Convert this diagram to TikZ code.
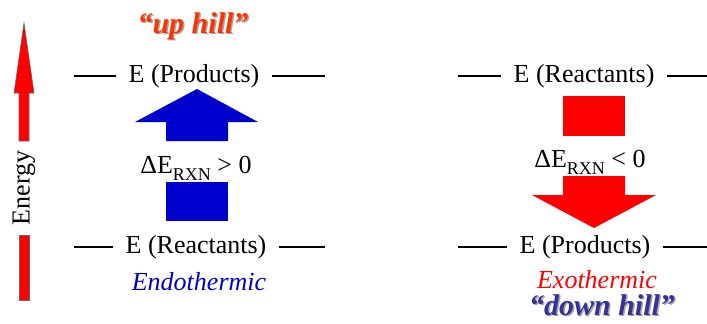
\documentclass[tikz,border=0pt]{standalone}
\usepackage{fontspec}
\setmainfont{Liberation Serif}
\definecolor{endoblue}{HTML}{0000CC}
\definecolor{uphillred}{HTML}{FF3300}
\definecolor{downhillblue}{HTML}{333399}
\newcommand{\rxnsub}{\raisebox{-0.3em}{\fontsize{18}{18}\selectfont RXN}}
\begin{document}
\begin{tikzpicture}[x=1pt, y=-1pt, font=\fontsize{26}{30}\selectfont, line join=miter,
	lvl/.style={inner xsep=12pt, inner ysep=0pt},
	lvlline/.style={line width=1.8pt},
	hill/.style={anchor=base, font=\fontsize{30}{34}\selectfont\bfseries\itshape},
	hillshadow/.style={hill, text=black!35}]
	\useasboundingbox (0,0) rectangle (707,324);
	% energy axis
	\fill[red, draw=black!60, line width=0.6pt] (19,141)--(19,93)--(14,93)--(24,23)--(34,93)--(29,93)--(29,141)--cycle;
	\fill[red, draw=black!60, line width=0.6pt] (19,235) rectangle (29,300);
	\node[rotate=90] (energy) at (24,188) {Energy};
	% endothermic
	\node[lvl] (pL) at (194,76) {E (Products)};
	\node[lvl] (rL) at (196,247) {E (Reactants)};
	\path (74,76) coordinate (pL1) (325,76) coordinate (pL2)
	(74,247) coordinate (rL1) (325,247) coordinate (rL2);
	\draw[lvlline] (pL1)--(pL) (pL)--(pL2) (rL1)--(rL) (rL)--(rL2);
	\fill[endoblue] (166,141)--(166,122)--(135,122)--(197,89)--(258,122)--(228,122)--(228,141)--cycle;
	\fill[endoblue] (166,182) rectangle (228,221);
	\node[anchor=base] (dL) at (196,173) {ΔE\rxnsub{} > 0};
	\node[anchor=base, text=endoblue, font=\fontsize{26}{30}\selectfont\itshape] (endo) at (199,290) {Endothermic};
	\node[hillshadow] (upS) at (194.5,34.5) {“up hill”};
	\node[hill, text=uphillred] (up) at (193,33) {“up hill”};
	% exothermic
	\node[lvl] (rR) at (584,76) {E (Reactants)};
	\node[lvl] (pR) at (585,247) {E (Products)};
	\path (458,76) coordinate (rR1) (707,76) coordinate (rR2)
	(458,247) coordinate (pR1) (707,247) coordinate (pR2);
	\draw[lvlline] (rR1)--(rR) (rR)--(rR2) (pR1)--(pR) (pR)--(pR2);
	\fill[red] (563,96) rectangle (625,136);
	\fill[red] (563,176)--(625,176)--(625,195)--(656,195)--(594,228)--(532,195)--(563,195)--cycle;
	\node[anchor=base] (dR) at (590,167) {ΔE\rxnsub{} < 0};
	\node[anchor=base, text=red, font=\fontsize{26}{30}\selectfont\itshape] (exo) at (597,288) {Exothermic};
	\node[hillshadow] (downS) at (603.5,316.5) {“down hill”};
	\node[hill, text=downhillblue] (down) at (602,315) {“down hill”};
\end{tikzpicture}
\end{document}
